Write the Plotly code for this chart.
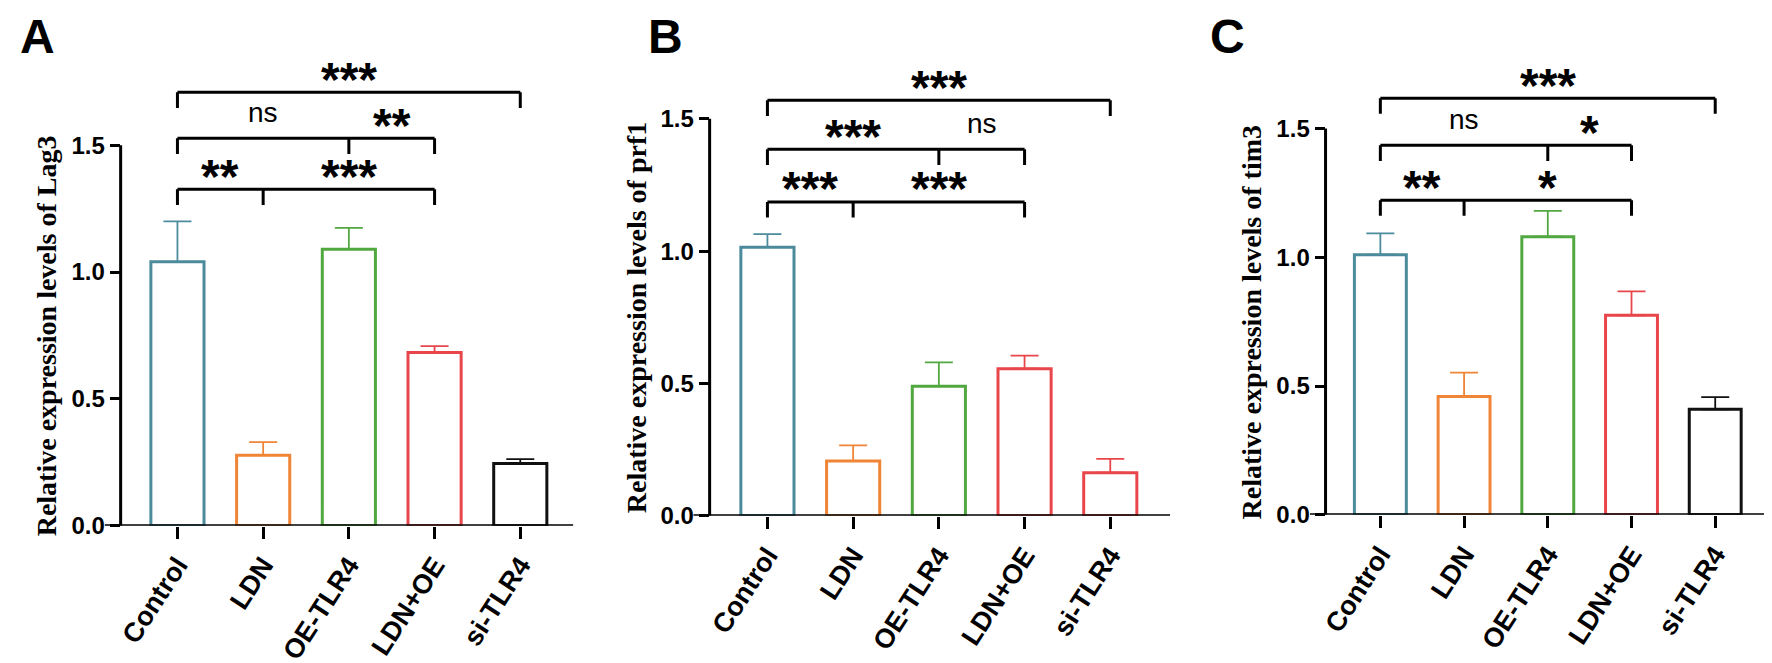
import plotly.graph_objects as go

categories = ["Control", "LDN", "OE-TLR4", "LDN+OE", "si-TLR4"]

lag3_mean = [1.04, 0.278, 1.09, 0.683, 0.245]
lag3_upper = [1.20, 0.329, 1.174, 0.708, 0.262]
prf1_mean = [1.015, 0.207, 0.49, 0.556, 0.163]
prf1_upper = [1.064, 0.266, 0.58, 0.605, 0.215]
tim3_mean = [1.01, 0.46, 1.08, 0.775, 0.41]
tim3_upper = [1.093, 0.552, 1.18, 0.868, 0.457]

# significance labels: [left, right] of lower and middle brackets, then the long one
lag3_sig_low = ["**", "***"]
lag3_sig_mid = ["ns", "**"]
lag3_sig_top = "***"
prf1_sig_low = ["***", "***"]
prf1_sig_mid = ["***", "ns"]
prf1_sig_top = "***"
tim3_sig_low = ["**", "*"]
tim3_sig_mid = ["ns", "*"]
tim3_sig_top = "***"

genes = ["Lag3", "prf1", "tim3"]
letters = ["A", "B", "C"]

TEAL = "#4b8b9b"
ORANGE = "#f08537"
GREEN = "#52a840"
RED = "#e8464b"
BLACK = "#111111"

W, H = 1772, 663

# pixel geometry of each panel: y-axis x, x-axis end, baseline y, px per unit, category spacing, y max
panels = [
    dict(left=107, right=561, zero=528, ppu=258.7, step=86.0, ymax=1.9,
         brackets=[1.326, 1.527, 1.709], colors=[TEAL, ORANGE, GREEN, RED, BLACK]),
    dict(left=698, right=1160, zero=518, ppu=270.0, step=86.0, ymax=1.75,
         brackets=[1.186, 1.385, 1.570], colors=[TEAL, ORANGE, GREEN, RED, RED]),
    dict(left=1316, right=1762, zero=517, ppu=262.7, step=84.0, ymax=1.8,
         brackets=[1.222, 1.435, 1.618], colors=[TEAL, ORANGE, GREEN, RED, BLACK]),
]
first_cat_px = [164, 756, 1371]

means = [lag3_mean, prf1_mean, tim3_mean]
uppers = [lag3_upper, prf1_upper, tim3_upper]
sig_low = [lag3_sig_low, prf1_sig_low, tim3_sig_low]
sig_mid = [lag3_sig_mid, prf1_sig_mid, tim3_sig_mid]
sig_top = [lag3_sig_top, prf1_sig_top, tim3_sig_top]

fig = go.Figure()
shapes = []
annotations = []

for i, p in enumerate(panels):
    sfx = "" if i == 0 else str(i + 1)
    xr, yr = "x" + sfx, "y" + sfx
    xmin = -(first_cat_px[i] - p["left"]) / p["step"]
    xmax = (p["right"] - first_cat_px[i]) / p["step"]
    ytop_px = p["zero"] - p["ymax"] * p["ppu"]

    for j, cat in enumerate(categories):
        c = p["colors"][j]
        fig.add_trace(go.Bar(
            x=[j], y=[means[i][j]], width=0.62,
            marker=dict(color="white", line=dict(color=c, width=3)),
            error_y=dict(type="data", symmetric=False,
                         array=[uppers[i][j] - means[i][j]], arrayminus=[0],
                         color=c, thickness=1.8, width=14),
            xaxis=xr, yaxis=yr, showlegend=False,
        ))

    layout_x = dict(domain=[p["left"] / W, p["right"] / W], range=[xmin, xmax],
                    tickvals=list(range(5)), ticktext=categories, tickangle=-57,
                    ticks="outside", ticklen=12, tickwidth=3, tickcolor="black",
                    showline=False, showgrid=False, zeroline=False,
                    tickfont=dict(family="Liberation Sans", size=27, color="black", weight="bold"),
                    anchor=yr)
    layout_y = dict(domain=[(H - p["zero"]) / H, (H - ytop_px) / H], range=[0, p["ymax"]],
                    tickvals=[0, 0.5, 1.0, 1.5], tickformat=".1f",
                    ticks="outside", ticklen=10, tickwidth=3, tickcolor="black",
                    showline=False, showgrid=False, zeroline=False,
                    tickfont=dict(family="Liberation Sans", size=24, color="black", weight="bold"),
                    anchor=xr)
    fig.update_layout(**{"xaxis" + sfx: layout_x, "yaxis" + sfx: layout_y})

    # axis lines
    shapes.append(dict(type="line", xref=xr + " domain", yref=yr, x0=-0.035, x1=1, y0=0, y1=0,
                       line=dict(color="black", width=3)))
    shapes.append(dict(type="line", xref=xr + " domain", yref=yr, x0=0, x1=0, y0=0, y1=1.5,
                       line=dict(color="black", width=3)))

    # brackets
    drop = 16 / p["ppu"]
    specs = [(0, 3, 1), (0, 3, 2), (0, 4, None)]
    for (a, b, mid), yb in zip(specs, p["brackets"]):
        shapes.append(dict(type="line", xref=xr, yref=yr, x0=a, x1=b, y0=yb, y1=yb,
                           line=dict(color="black", width=3)))
        for xt in [a, b] + ([mid] if mid is not None else []):
            shapes.append(dict(type="line", xref=xr, yref=yr, x0=xt, x1=xt, y0=yb, y1=yb - drop,
                               line=dict(color="black", width=3)))

    def sig_note(text, x, yb):
        if text == "ns":
            font = dict(family="Liberation Sans", size=28, color="black")
            shift = 26
        else:
            font = dict(family="Liberation Sans", size=48, color="black", weight="bold")
            shift = 13
        annotations.append(dict(text=text, x=x, y=yb, xref=xr, yref=yr, showarrow=False,
                                xanchor="center", yanchor="middle", yshift=shift, font=font))

    sig_note(sig_low[i][0], 0.5, p["brackets"][0])
    sig_note(sig_low[i][1], 2.0, p["brackets"][0])
    sig_note(sig_mid[i][0], 1.0, p["brackets"][1])
    sig_note(sig_mid[i][1], 2.5, p["brackets"][1])
    sig_note(sig_top[i], 2.0, p["brackets"][2])

    # y-axis title
    annotations.append(dict(text="Relative expression levels of " + genes[i],
                            x=(p["left"] - 74) / W, y=0.75, xref="paper", yref=yr,
                            textangle=-90, showarrow=False, xanchor="center", yanchor="middle",
                            font=dict(family="Liberation Serif", size=28, color="black", weight="bold")))

letter_px = [4, 634, 1198]
for i, lt in enumerate(letters):
    annotations.append(dict(text=lt, x=letter_px[i] / W, y=1, xref="paper", yref="paper",
                            showarrow=False, xanchor="left", yanchor="top",
                            font=dict(family="Liberation Sans", size=48, color="black", weight="bold")))

fig.update_layout(
    width=W, height=H,
    margin=dict(l=0, r=0, t=0, b=0),
    paper_bgcolor="white", plot_bgcolor="white",
    shapes=shapes, annotations=annotations,
    barmode="overlay",
)

fig.write_html("out.html")
